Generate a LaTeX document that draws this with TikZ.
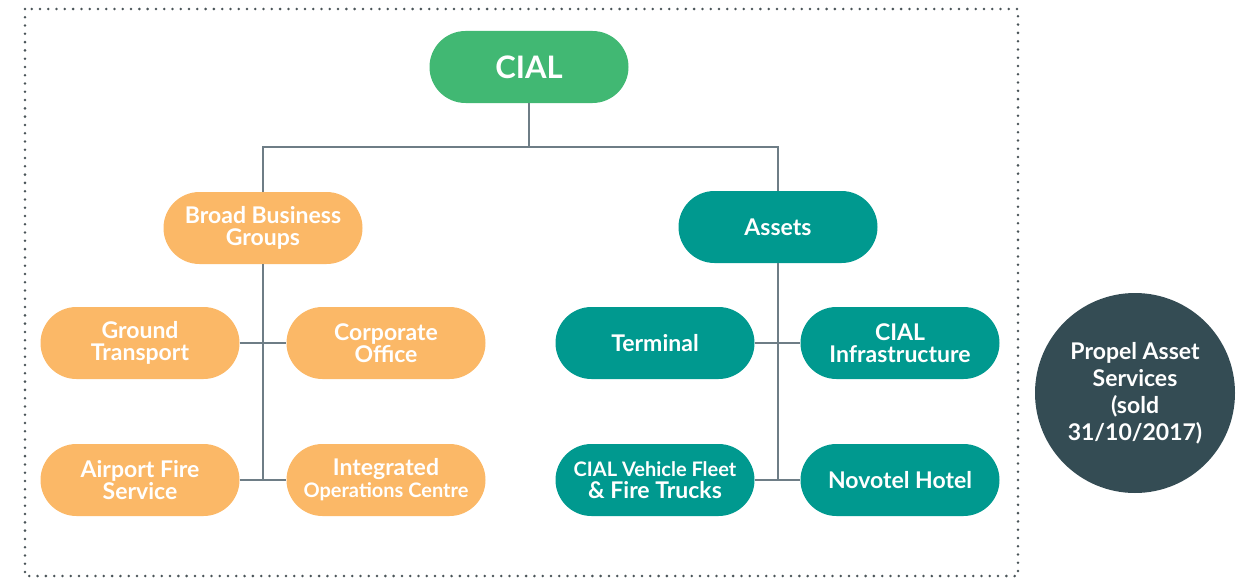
\documentclass[tikz,border=0pt]{standalone}
\usepackage{fontspec}
\setmainfont{Lato}
\definecolor{cgreen}{HTML}{41B873}
\definecolor{corange}{HTML}{FBB867}
\definecolor{cteal}{HTML}{00998F}
\definecolor{cdark}{HTML}{344C54}
\definecolor{cline}{HTML}{6E7D86}
\definecolor{cdot}{HTML}{4A5458}
\newcommand{\smalltxt}{\fontsize{20}{22}\selectfont}
\begin{document}
\begin{tikzpicture}[x=1pt,y=-1pt,
  pill/.style={rectangle, rounded corners=36pt, minimum width=199pt, minimum height=72pt,
     inner sep=0pt, text=white, align=center, font=\bfseries\fontsize{23}{22}\selectfont},
  orangepill/.style={pill, fill=corange},
  tealpill/.style={pill, fill=cteal},
  link/.style={draw=cline, line width=1.3pt},
  border/.style={draw=cdot, line width=2.8pt, line cap=round, dash pattern=on 0pt off 8.28pt}]
\useasboundingbox (0,0) rectangle (1243,578);
\draw[border] (25,9) rectangle (1018,576);
\node[pill, fill=cgreen, font=\bfseries\fontsize{31}{34}\selectfont] (cial) at (529,67) {CIAL};
\node[orangepill] (bbg) at (263,228) {Broad Business\\Groups};
\node[tealpill] (assets) at (778,227) {Assets};
\node[orangepill] (gt) at (140,343) {Ground\\Transport};
\node[orangepill] (co) at (386,343) {Corporate\\Office};
\node[orangepill] (afs) at (140,480) {Airport Fire\\Service};
\node[orangepill] (ioc) at (386,480) {Integrated\\{\smalltxt Operations Centre}};
\node[tealpill] (term) at (655,343) {Terminal};
\node[tealpill] (infra) at (900,343) {CIAL\\Infrastructure};
\node[tealpill] (fleet) at (655,480) {{\smalltxt CIAL Vehicle Fleet}\\\& Fire Trucks};
\node[tealpill] (novo) at (900,480) {Novotel Hotel};
\node[circle, fill=cdark, minimum size=200pt, inner sep=0pt, text=white, align=center,
  font=\bfseries\fontsize{23}{27}\selectfont] (propel) at (1135,393) {Propel Asset\\Services\\(sold\\31/10/2017)};
\coordinate (bar) at (529,147);
\coordinate (lj2) at (263,480);
\coordinate (rj2) at (778,480);
\draw[link] (cial.south) -- (bar);
\draw[link] (bbg.north) |- (bar) -| (assets.north);
\draw[link] (bbg.south) -- (lj2);
\draw[link] (assets.south) -- (rj2);
\draw[link] (gt.east) -- (co.west);
\draw[link] (afs.east) -- (ioc.west);
\draw[link] (term.east) -- (infra.west);
\draw[link] (fleet.east) -- (novo.west);
\end{tikzpicture}
\end{document}
